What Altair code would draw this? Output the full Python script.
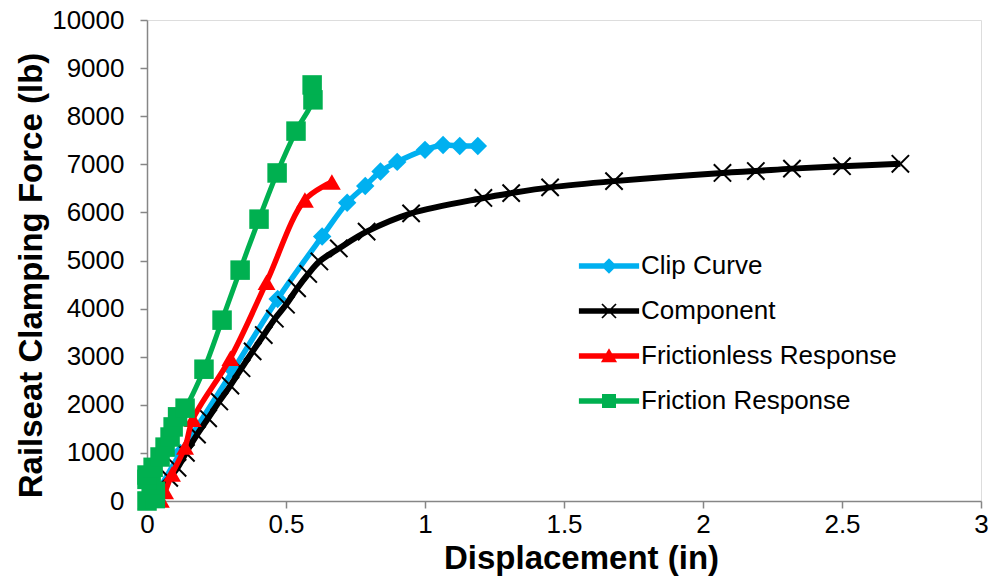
import altair as alt
import pandas as pd

SERIES = ["Clip Curve", "Component", "Frictionless Response", "Friction Response"]
COLORS = ["#00B0F0", "#000000", "#FF0000", "#00B050"]

# Clip Curve (blue diamonds)
clip_x = [0.0, 0.03, 0.12, 0.31, 0.47, 0.63, 0.72, 0.785, 0.84, 0.90, 1.00, 1.065, 1.125, 1.19]
clip_y = [0, 150, 1000, 2720, 4200, 5500, 6200, 6550, 6850, 7050, 7300, 7400, 7380, 7380]

# Component (black crosses)
comp_x = [0.0, 0.04, 0.08, 0.11, 0.14, 0.18, 0.22, 0.26, 0.30, 0.34, 0.38, 0.42, 0.46, 0.50,
          0.54, 0.58, 0.62, 0.69, 0.79, 0.95, 1.21, 1.31, 1.45, 1.68, 2.07, 2.19, 2.32, 2.50, 2.71]
comp_y = [0, 250, 480, 690, 1000, 1380, 1720, 2070, 2400, 2760, 3110, 3450, 3790, 4080,
          4420, 4720, 4980, 5250, 5600, 5980, 6300, 6400, 6520, 6650, 6820, 6860, 6910, 6960, 7010]

# Frictionless Response (red triangles)
fless_x = [0.0, 0.05, 0.065, 0.09, 0.137, 0.165, 0.30, 0.43, 0.568, 0.665]
fless_y = [0, 20, 200, 560, 1120, 1700, 2970, 4550, 6260, 6630]

# Friction Response (green squares)
fric_x = [0.0, 0.03, 0.03, 0.015, 0.0, 0.0, 0.022, 0.047, 0.065, 0.083, 0.094, 0.11, 0.137,
          0.205, 0.27, 0.335, 0.403, 0.468, 0.536, 0.597, 0.594]
fric_y = [0, 50, 200, 330, 450, 540, 700, 915, 1120, 1330, 1540, 1750, 1930,
          2740, 3760, 4800, 5860, 6820, 7690, 8340, 8650]

X_TICKS = [0, 0.5, 1, 1.5, 2, 2.5, 3]
Y_TICKS = [0, 1000, 2000, 3000, 4000, 5000, 6000, 7000, 8000, 9000, 10000]

FONT = "Liberation Sans"

rows = []
for name, xs, ys in [(SERIES[0], clip_x, clip_y), (SERIES[1], comp_x, comp_y),
                     (SERIES[2], fless_x, fless_y), (SERIES[3], fric_x, fric_y)]:
    for i, (xv, yv) in enumerate(zip(xs, ys)):
        rows.append({"series": name, "x": xv, "y": yv, "order": i})
df = pd.DataFrame(rows)

axis_common = dict(grid=False, labelFont=FONT, titleFont=FONT, labelColor="black",
                   titleColor="black", domainColor="#868686", tickColor="#868686",
                   domainWidth=1.5, tickWidth=1.5, tickSize=7, labelFontSize=26,
                   titleFontSize=33, titleFontWeight="bold")

x_enc = alt.X("x:Q", scale=alt.Scale(domain=[0, 3], nice=False),
              axis=alt.Axis(values=X_TICKS, format="~g", labelPadding=3, titlePadding=5,
                            titleX=434, labelFlush=False, **axis_common),
              title="Displacement (in)")
y_enc = alt.Y("y:Q", scale=alt.Scale(domain=[0, 10000], nice=False),
              axis=alt.Axis(values=Y_TICKS, format="d", labelPadding=16, titlePadding=3,
                            titleY=255, labelFlush=False, **axis_common),
              title="Railseat Clamping Force (lb)")

base = alt.Chart(df).encode(x=x_enc, y=y_enc, order="order:Q")

X_PATH = "M-1,-1L1,1M-1,1L1,-1"
marker_specs = {
    SERIES[0]: dict(shape="diamond", filled=True, size=340),
    SERIES[1]: dict(shape=X_PATH, filled=False, size=300, strokeWidth=2),
    SERIES[2]: dict(shape="triangle-up", filled=True, size=320),
    SERIES[3]: dict(shape="square", filled=True, size=380),
}
line_widths = {SERIES[0]: 5.5, SERIES[1]: 6, SERIES[2]: 5.5, SERIES[3]: 5}

layers = []
for name, col in zip(SERIES, COLORS):
    sub = base.transform_filter(alt.datum.series == name)
    layers.append(sub.mark_line(interpolate="catmull-rom", strokeWidth=line_widths[name], color=col))
    layers.append(sub.mark_point(color=col, opacity=1, **marker_specs[name]))

# legend symbols: line plus marker drawn as filled shapes
LINE = "M-4.3,-0.38H4.3V0.38H-4.3Z"
LEG_PATHS = [
    LINE + "M0,-1.1L1.1,0L0,1.1L-1.1,0Z",
    LINE + "M-1.088,-0.912L-0.912,-1.088L1.088,0.912L0.912,1.088Z"
           "M-0.912,1.088L-1.088,0.912L0.912,-1.088L1.088,-0.912Z",
    LINE + "M0,-1.1L1.15,0.9L-1.15,0.9Z",
    LINE + "M-1,-1H1V1H-1Z",
]

legend = alt.Legend(orient="none", legendX=449, legendY=233, direction="vertical", title=None,
                    symbolSize=196, symbolStrokeWidth=0, symbolOpacity=1, labelFontSize=26,
                    labelFont=FONT, labelColor="black", labelOffset=19, rowPadding=19,
                    padding=0, labelLimit=0)

leg_layer = base.mark_point(filled=True, opacity=0).encode(
    color=alt.Color("series:N", scale=alt.Scale(domain=SERIES, range=COLORS), legend=legend),
    shape=alt.Shape("series:N", scale=alt.Scale(domain=SERIES, range=LEG_PATHS), legend=legend),
)

chart = alt.layer(*layers, leg_layer).properties(
    width=834, height=481,
    autosize=alt.AutoSizeParams(type="none"),
    padding={"left": 147, "top": 20, "right": 13, "bottom": 78},
).configure_view(stroke=None).configure(background="white")

chart.save("out.html", embed_options={"renderer": "svg", "actions": False})
